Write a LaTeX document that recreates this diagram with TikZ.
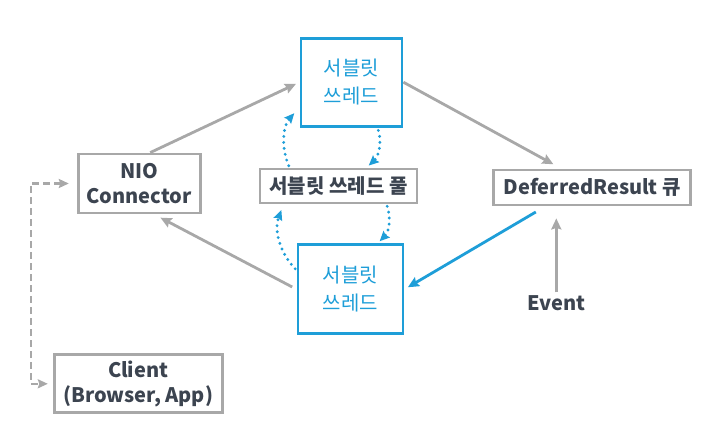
\documentclass[tikz,border=0pt]{standalone}
\usepackage{fontspec}
\setmainfont{Noto Sans CJK KR}
\usepackage{xcolor}
\usepackage{tikz}
\usetikzlibrary{arrows.meta,positioning}

\definecolor{linegray}{HTML}{A8A8A8}
\definecolor{servletblue}{HTML}{1E9ED8}
\definecolor{textdark}{HTML}{3C4450}

\begin{document}
\begin{tikzpicture}[
  x=1pt, y=-1pt,
  node distance=40pt and 57pt,
  every node/.style={font=\fontsize{20}{25}\selectfont\bfseries, text=textdark},
  box/.style={draw=linegray, line width=2.8pt, align=center, inner sep=2pt},
  thread/.style={draw=servletblue, line width=2.8pt, align=center, text=servletblue,
    minimum width=101pt, minimum height=88pt, font=\fontsize{20}{28}\selectfont},
  arr/.style={-{Stealth[length=11pt,width=10pt,inset=1.5pt]}, line width=2.8pt, draw=linegray},
  bluearr/.style={-{Stealth[length=11pt,width=10pt,inset=1.5pt]}, line width=2.8pt, draw=servletblue},
  dotarr/.style={-{Stealth[length=10pt,width=9pt,inset=1.5pt]}, line width=3.2pt, draw=servletblue,
    dash pattern=on 0pt off 6pt, line cap=round, bend left=32},
  dasharr/.style={{Stealth[length=10pt,width=9pt,inset=1.5pt]}-{Stealth[length=10pt,width=9pt,inset=1.5pt]},
    line width=2.6pt, draw=linegray, dash pattern=on 7pt off 4pt}
]
  \useasboundingbox (0,0) rectangle (723,437);

  \node[box, minimum width=157pt, minimum height=34pt] (pool) at (338.5,186) {서블릿 쓰레드 풀};
  \node[thread, above=40pt of pool, xshift=13pt] (top) {서블릿\\쓰레드};
  \node[thread, below=39pt of pool, xshift=12pt, minimum width=105pt, minimum height=89pt] (bot) {서블릿\\쓰레드};
  \node[box, left=57pt of pool, yshift=2.5pt, minimum width=122pt, minimum height=59pt] (nio) {NIO\\Connector};
  \node[box, right=74pt of pool, yshift=-1.5pt, minimum width=197pt, minimum height=35pt] (dr) {DeferredResult 큐};
  \node[box, below=139pt of nio, xshift=-1pt, minimum width=168pt, minimum height=58pt] (client) {Client\\(Browser, App)};
  \node[below=86pt of dr, xshift=-36pt] (event) {Event};

  \draw[arr, shorten >=4pt] ([xshift=11pt]nio.north) -- (top.west);
  \draw[arr, shorten >=9pt] (top.east) -- ([xshift=-31pt]dr.north);
  \draw[arr, shorten <=5pt, shorten >=7pt] (bot.west) -- ([xshift=15pt]nio.south);
  \draw[bluearr, shorten <=11pt, shorten >=4pt] ([xshift=-47pt]dr.south) -- (bot.east);
  \draw[arr, shorten >=12pt] (event.north) -- ([xshift=-36pt]dr.south);
  \draw[dasharr, shorten <=8pt, shorten >=5pt] (nio.west) -- ++(-46pt,0) |- (client.west);

  \draw[dotarr, shorten <=3pt, shorten >=3pt] ([xshift=26pt]top.south) to ([xshift=28pt]pool.north);
  \draw[dotarr, shorten <=2pt, shorten >=8pt] ([xshift=-49pt]pool.north) to ([yshift=-25pt]top.west);
  \draw[dotarr, shorten <=2pt, shorten >=3pt] ([xshift=48pt]pool.south) to ([xshift=27pt]bot.north);
  \draw[dotarr, shorten <=2pt, shorten >=6pt] ([yshift=19pt]bot.west) to ([xshift=-55pt]pool.south);
\end{tikzpicture}
\end{document}
